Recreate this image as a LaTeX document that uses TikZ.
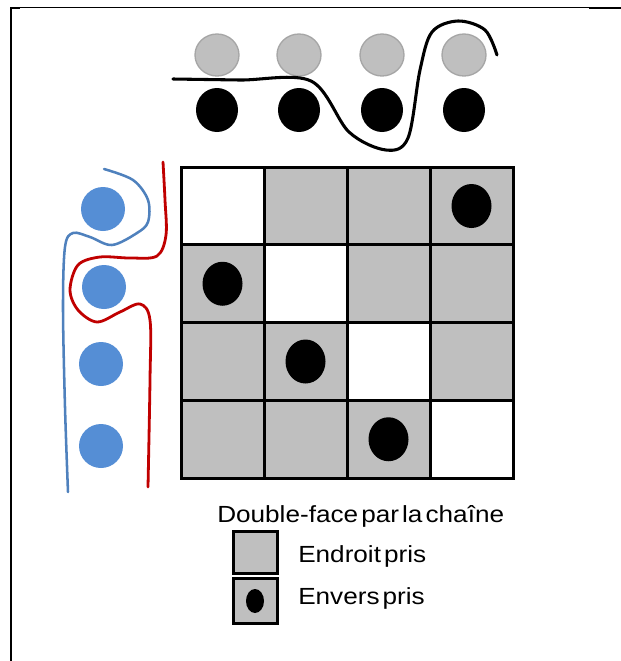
\documentclass[tikz,border=0pt]{standalone}
\usepackage{fontspec}
\setmainfont{Liberation Sans}
\definecolor{cellgray}{RGB}{191,191,191}
\definecolor{ringgray}{RGB}{166,166,166}
\definecolor{weftblue}{RGB}{85,142,213}
\definecolor{lineblue}{RGB}{79,129,189}
\definecolor{linered}{RGB}{192,0,0}
\usetikzlibrary{positioning}
\newcommand{\legtext}[1]{\scalebox{1.12}[1]{\spaceskip=0.12em\relax #1}}

\begin{document}
\begin{tikzpicture}[x=0.75pt, y=-0.75pt,
    gridline/.style={line width=2.25pt, line cap=rect},
    legtxt/.style={font=\fontsize{17.5}{20}\selectfont, inner sep=0pt, anchor=base west},
    thread/.style={line width=#1, line cap=round, line join=round}]
  \useasboundingbox (0,0) rectangle (621,661);
  % frame
  \draw[line width=1.5pt] (11,661) -- (11,7);
  \draw[line width=1.3pt] (11,7.5) -- (621,7.5);
  \draw[line width=1.8pt] (11,8) -- (20,8);
  \draw[line width=1.8pt] (589,8) -- (621,8);

  % warp threads on top
  \foreach \x in {217,299,382,464} {
    \filldraw[fill=cellgray, draw=ringgray, line width=1pt] (\x,55) ellipse [x radius=22, y radius=21];
    \fill (\x,110) ellipse [x radius=21, y radius=22];
  }
  \draw[thread=2.3pt] plot[smooth, tension=0.55] coordinates
    {(173,79) (240,80) (311,81) (349,132) (386,150) (408,138) (420,70) (432,32) (458,21) (485,30) (497,55)};

  % weft threads on the left
  \foreach \x/\y in {103/209, 104/287, 101/364, 101/446}
    \fill[weftblue] (\x,\y) circle [radius=22];
  \draw[thread=1.9pt, lineblue] plot[smooth, tension=0.55] coordinates
    {(104,169) (133,180) (148,200) (148,222) (137,233) (112,245) (90,237) (73,233) (65,247) (63,307) (65,407) (68,492)};
  \draw[thread=2.1pt, linered] plot[smooth, tension=0.55] coordinates
    {(163,162) (165,200) (166,235) (157,256) (130,258) (100,257) (78,265) (70,290) (78,310) (97,322) (120,312) (140,304) (150,320) (150,380) (148,487)};

  % weave grid
  \fill[cellgray] (181,167) rectangle (513,478);
  \foreach \r in {0,...,3}
    \fill[white] ({181+83*\r},{167+77.75*\r}) rectangle +(83,77.75);
  \foreach \i in {0,...,4} {
    \draw[gridline] ({181+83*\i},167) -- ({181+83*\i},478);
    \draw[gridline] (181,{167+77.75*\i}) -- (513,{167+77.75*\i});
  }
  \foreach \r/\c in {0/3, 1/0, 2/1, 3/2}
    \fill ({222.5+83*\c},{206+77.75*\r}) ellipse [x radius=20, y radius=22];

  % legend
  \node[legtxt] (title) at (217,522) {\legtext{Double-face par la chaîne}};
  \filldraw[fill=cellgray, line width=2.25pt] (233,531) rectangle (277,573);
  \filldraw[fill=cellgray, line width=2.25pt] (233,578) rectangle (277,623);
  \fill (255,601) ellipse [x radius=9, y radius=12];
  \node[legtxt] (endroit) at (298,562) {\legtext{Endroit pris}};
  \node[legtxt] (envers) at (298,604) {\legtext{Envers pris}};
\end{tikzpicture}
\end{document}
